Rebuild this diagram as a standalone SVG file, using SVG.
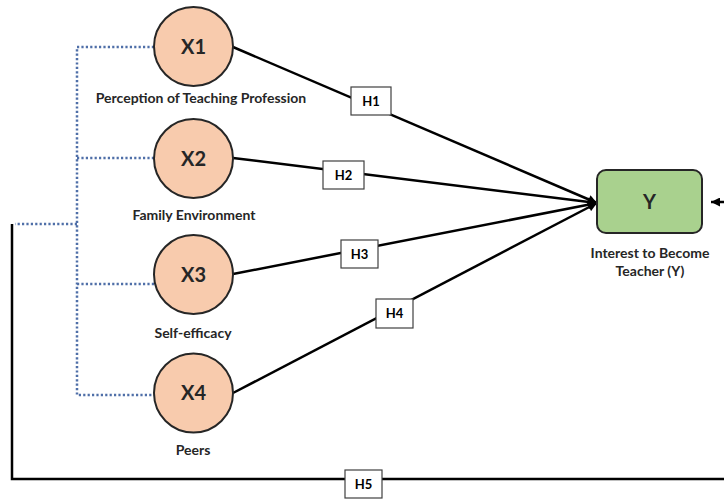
<svg xmlns="http://www.w3.org/2000/svg" width="724" height="501" viewBox="0 0 724 501">
<defs>
<marker id="arr" viewBox="0 0 10 10" refX="10" refY="5" markerWidth="11" markerHeight="9" markerUnits="userSpaceOnUse" orient="auto">
<path d="M0,0 L10,5 L0,10 z" fill="#000"/>
</marker>
<style>
.conn{stroke:#000;stroke-width:2.5;fill:none}
.dot{stroke:#4f6fa8;stroke-width:2.5;fill:none;stroke-dasharray:2.2 2.2}
.circ{fill:#f8cbad;stroke:#262626;stroke-width:2}
.big{font-family:Lato,"Liberation Sans",sans-serif;font-weight:bold;font-size:20px;fill:#262626;text-anchor:middle}
.lbl{font-family:Lato,"Liberation Sans",sans-serif;font-weight:bold;font-size:14px;fill:#262626;text-anchor:middle}
.hbox{fill:#fff;stroke:#404040;stroke-width:1.2}
.ht{font-family:Lato,"Liberation Sans",sans-serif;font-weight:bold;font-size:13px;fill:#000;text-anchor:middle}
</style>
</defs>
<rect width="724" height="501" fill="#fff"/>
<g id="connectors">
<path class="dot" d="M154,47 H77 V395 H154 M77,158 H154 M77,284 H154 M77,224 H15"/>
<line class="conn" x1="233" y1="47" x2="597" y2="203" marker-end="url(#arr)"/>
<line class="conn" x1="233" y1="158" x2="597" y2="203" marker-end="url(#arr)"/>
<line class="conn" x1="233" y1="274" x2="597" y2="203" marker-end="url(#arr)"/>
<line class="conn" x1="233" y1="393" x2="597" y2="203" marker-end="url(#arr)"/>
<path class="conn" d="M12,224 V479 H735 V202 H711" marker-end="url(#arr)"/>
</g>
<g id="H1"><rect class="hbox" x="351" y="87" width="40" height="28"/><text class="ht" x="371" y="105.5">H1</text></g>
<g id="H2"><rect class="hbox" x="323" y="161" width="41" height="28"/><text class="ht" x="343.5" y="179.5">H2</text></g>
<g id="H3"><rect class="hbox" x="341" y="240" width="37" height="28"/><text class="ht" x="359.5" y="258.5">H3</text></g>
<g id="H4"><rect class="hbox" x="376" y="299" width="37" height="29"/><text class="ht" x="394.5" y="318">H4</text></g>
<g id="H5"><rect class="hbox" x="345" y="470" width="37" height="28"/><text class="ht" x="363.5" y="488.5">H5</text></g>
<g id="X1"><circle class="circ" cx="193.5" cy="46.5" r="39.5"/><text class="big" x="193.5" y="53.5">X1</text><text class="lbl" x="201" y="103">Perception of Teaching Profession</text></g>
<g id="X2"><circle class="circ" cx="193.5" cy="158.5" r="39.5"/><text class="big" x="193.5" y="165.5">X2</text><text class="lbl" x="194" y="220">Family Environment</text></g>
<g id="X3"><circle class="circ" cx="193.5" cy="274.5" r="39.5"/><text class="big" x="193.5" y="281.5">X3</text><text class="lbl" x="193" y="338">Self-efficacy</text></g>
<g id="X4"><circle class="circ" cx="193.5" cy="393" r="39.5"/><text class="big" x="193.5" y="400">X4</text><text class="lbl" x="193" y="455">Peers</text></g>
<g id="Y"><rect x="597" y="170" width="105" height="63" rx="9" fill="#a9d18e" stroke="#262626" stroke-width="2"/><text class="big" x="649.5" y="209">Y</text><text class="lbl" x="650" y="258">Interest to Become</text><text class="lbl" x="650" y="276">Teacher (Y)</text></g>
</svg>
